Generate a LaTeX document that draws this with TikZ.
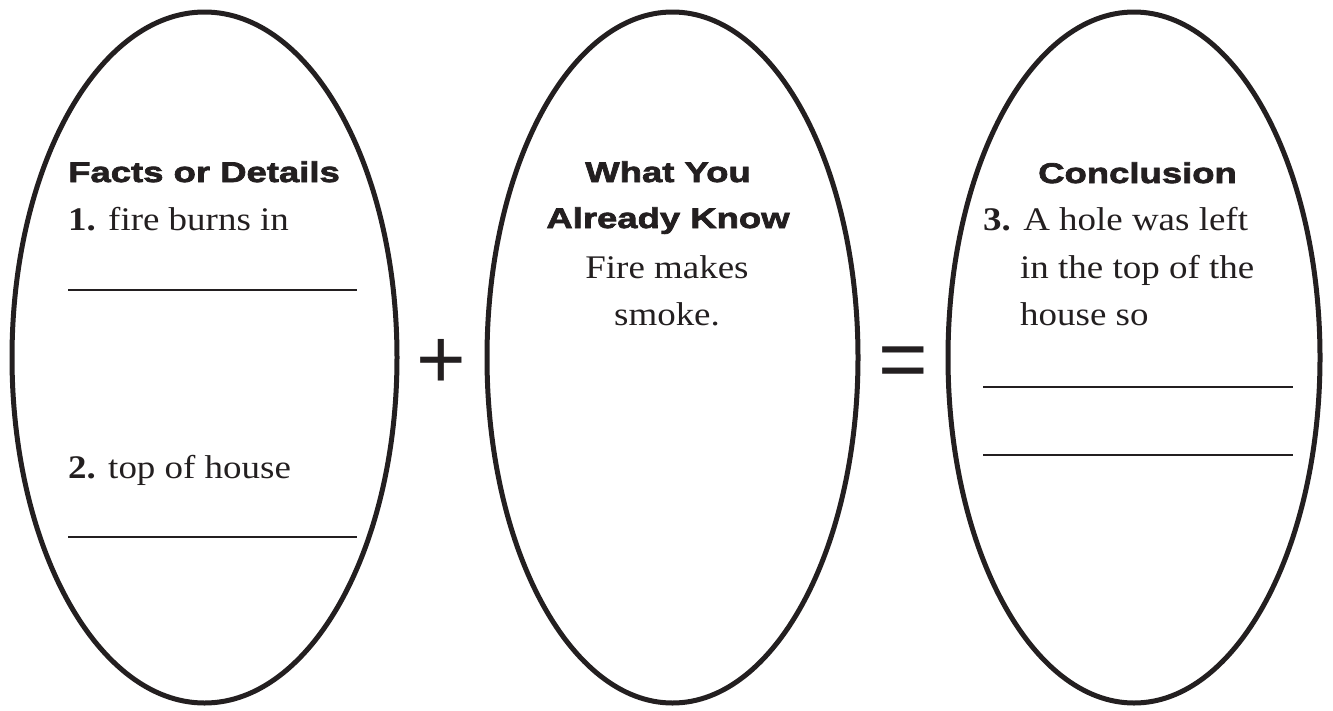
\documentclass[tikz,border=0pt]{standalone}
\usepackage{fontspec}
\setmainfont{Liberation Serif}[FakeStretch=1.12]
\newfontfamily\headfont{Liberation Sans}[UprightFont=* Bold, FakeStretch=1.28, FakeBold=2.5]
\newfontfamily\opfont{Liberation Sans}
\usetikzlibrary{shapes.geometric}
\definecolor{ink}{HTML}{231F20}
\begin{document}
\begin{tikzpicture}[x=1pt,y=-1pt,
  oval/.style={ellipse, draw=ink, line width=5pt, inner sep=0pt, minimum width=#1, minimum height=691pt},
  head/.style={inner sep=0pt, text=ink, font=\headfont\fontsize{28.5}{30}\selectfont},
  body/.style={inner sep=0pt, text=ink, font=\fontsize{33}{40}\selectfont},
  blank/.style={line width=1.5pt, draw=ink},
  op/.style={inner sep=0pt, text=ink, font=\opfont\fontsize{85}{85}\selectfont}]
\useasboundingbox (0,0) rectangle (1333,710);

\node[oval=385pt] (e1) at (204.5,357.5) {};
\node[oval=371pt] (e2) at (672.5,357.5) {};
\node[oval=372pt] (e3) at (1134,357.5) {};

\node[op, anchor=base] (plus) at (441,388) {+};
\node[op, anchor=base] (eq) at (903,388) {=};

\node[head, anchor=base west] (h1) at (68,182) {Facts or Details};
\node[body, anchor=base west] (t1) at (68,230) {\textbf{1.} fire burns in};
\draw[blank] (68,290) -- (357,290);
\node[body, anchor=base west] (t2) at (68,478) {\textbf{2.} top of house};
\draw[blank] (68,537) -- (357,537);

\node[head, anchor=base] (h2a) at (668,182) {What You};
\node[head, anchor=base] (h2b) at (668,228) {Already Know};
\node[body, anchor=base] (t3) at (667,278) {Fire makes};
\node[body, anchor=base] (t4) at (667,325) {smoke.};

\node[head, anchor=base] (h3) at (1137.5,183) {Conclusion};
\node[body, anchor=base west] (t5) at (983,230) {\textbf{3.} A hole was left};
\node[body, anchor=base west] (t6) at (1020,278) {in the top of the};
\node[body, anchor=base west] (t7) at (1020,325) {house so};
\draw[blank] (983,387) -- (1293,387);
\draw[blank] (983,455) -- (1293,455);
\end{tikzpicture}
\end{document}
